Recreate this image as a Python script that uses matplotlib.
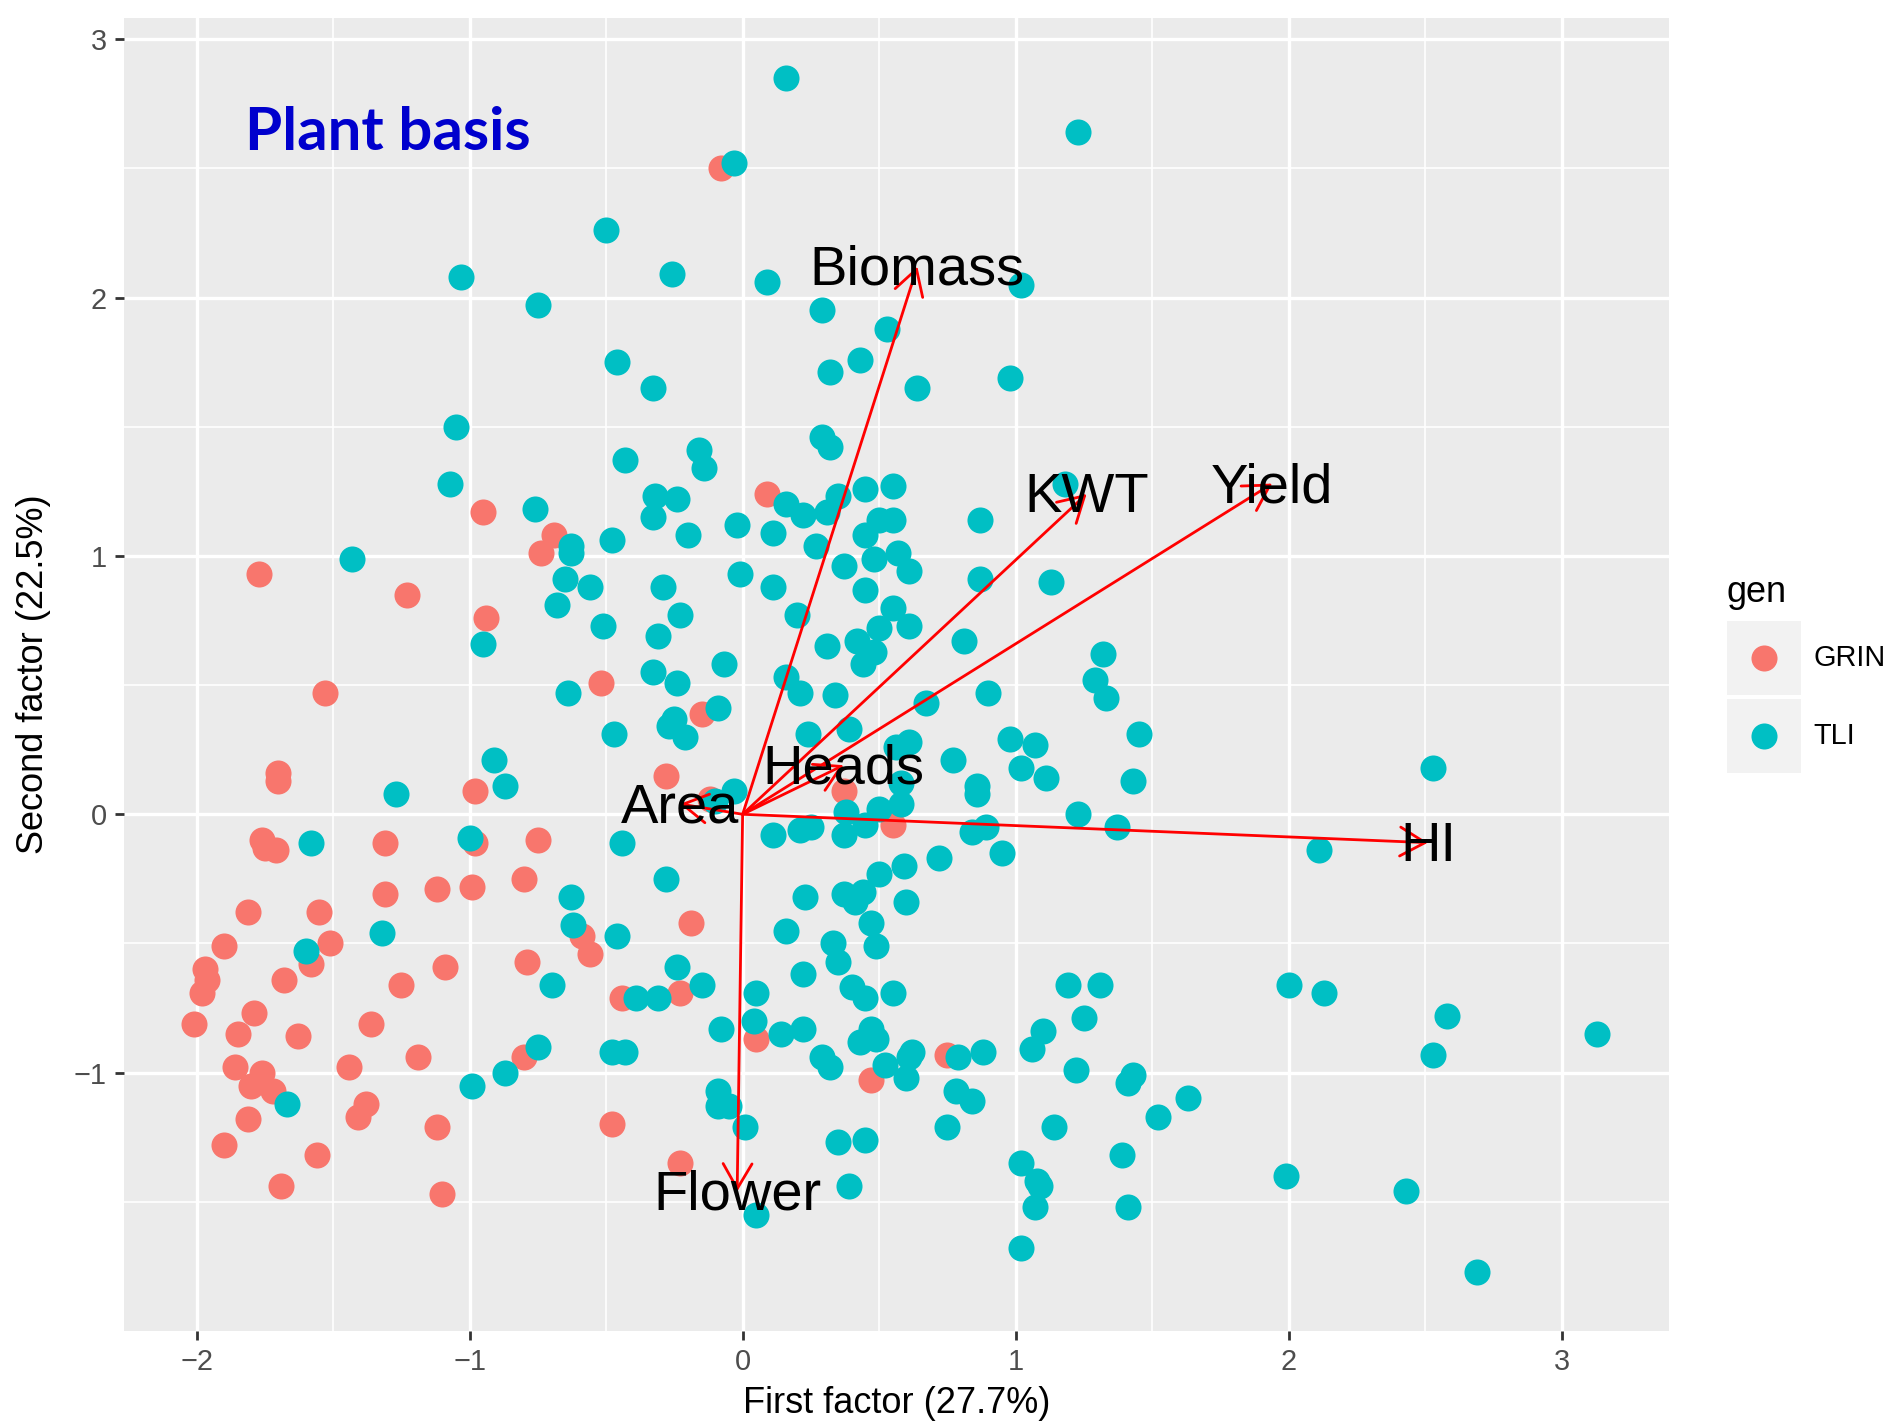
# Biplot of plant-basis factor scores (GRIN vs TLI) with variable loadings.

import matplotlib.pyplot as plt
from matplotlib.patches import Rectangle

plt.rcParams['font.family'] = ['Liberation Sans', 'DejaVu Sans']

W, H, DPI = 1895, 1422, 200

# factor scores, GRIN
grin_x = [-0.08, 0.09, -0.95, -1.77, -1.23, -0.94, -0.69, -0.74, -1.53, -0.52,
          -0.15, -1.70, -1.70, -0.28, -0.98, -0.12, -1.76, -1.75, -1.71, -1.31,
          -0.98, -0.75, -1.31, -1.12, -0.99, -0.80, -1.81, -1.55, -1.90, -1.51,
          -1.97, -1.96, -1.98, -1.58, -1.68, -1.25, -1.09, -0.79, -0.59, -0.56,
          -0.44, -2.01, -1.79, -1.85, -1.63, -1.36, -1.86, -1.76, -1.80, -1.72,
          -1.44, -1.19, -0.80, -1.81, -1.38, -1.41, -1.12, -1.90, -1.56, -1.69,
          -1.10, -0.48, -0.23, -0.19, -0.23, 0.05, 0.47, 0.75, 0.37, 0.55]
grin_y = [2.50, 1.24, 1.17, 0.93, 0.85, 0.76, 1.08, 1.01, 0.47, 0.51,
          0.39, 0.16, 0.13, 0.15, 0.09, 0.06, -0.10, -0.13, -0.14, -0.11,
          -0.11, -0.10, -0.31, -0.29, -0.28, -0.25, -0.38, -0.38, -0.51, -0.50,
          -0.60, -0.64, -0.69, -0.58, -0.64, -0.66, -0.59, -0.57, -0.47, -0.54,
          -0.71, -0.81, -0.77, -0.85, -0.86, -0.81, -0.98, -1.00, -1.05, -1.07,
          -0.98, -0.94, -0.94, -1.18, -1.12, -1.17, -1.21, -1.28, -1.32, -1.44,
          -1.47, -1.20, -1.35, -0.42, -0.69, -0.87, -1.03, -0.93, 0.09, -0.04]

# factor scores, TLI
tli_x = [-0.50, -1.03, -0.75, -0.46, -0.33, -1.05, -0.43, 0.16, 1.23, -0.03,
         -0.26, 0.09, 1.02, 0.29, 0.53, 0.43, 0.32, 0.64, 0.98, 0.29,
         0.32, -0.16, -0.14, -1.07, -0.76, -0.63, -0.63, -0.48, -1.43, -0.65,
         -0.56, -0.68, -0.51, -0.95, -0.64, -0.47, -0.91, -0.87, -1.27, -1.00,
         -1.58, -0.44, -0.63, -1.60, -1.32, -1.67, -0.99, -0.87, -0.75, -0.70,
         -0.62, -0.46, -0.39, -0.48, -0.43,
         -0.32, -0.24, -0.33, -0.20, -0.02, 0.16, 0.22, 0.31, 0.35, 0.45,
         0.55, 0.11, 0.27, 0.50, 0.55, 0.45, 0.48, 0.57, 0.61, 0.37,
         0.87, 0.87, 1.13, -0.01, 0.11, 0.45, -0.29, -0.23, -0.31, 0.20,
         0.55, 0.61, 0.50, 0.42, 0.48, 0.44, 0.31, 0.81, -0.07, -0.33,
         -0.24, 0.16, 0.21, 0.34, 0.90, 0.67, 1.32, 1.29, 1.33, -0.09,
         -0.25, -0.27, -0.21, 0.24, 0.39, 0.61, 0.56, 0.98, 1.07, 1.02,
         1.11, 1.45, 1.43, 0.77, 0.86, 0.86, 0.58, 0.58, -0.03, -0.10,
         1.23, 1.37, 0.89, 0.84, 0.95, 0.11, 0.21, 0.25, 0.37, 0.38,
         0.45, 0.50, 0.72, 0.59, 0.50, -0.28, 0.23, 0.37, 0.44, 0.41, 0.60, 1.18,
         0.47, 0.16, 0.33, 0.49, 0.35, 0.22, -0.24, -0.15, -0.31, 0.05,
         0.40, 0.45, 0.55, -0.08, 0.04, 0.14, 0.22, 0.47, 0.43, 0.49,
         0.29, 0.32, 0.52, 0.62, 0.61, 0.60, 0.79, 0.88, 1.10, 1.06,
         1.19, 1.31, 1.25, 1.22, 1.41, 1.43, 0.78, 0.84, 0.75, 1.14,
         1.52, -0.09, -0.09, -0.05, 0.01, 0.35, 0.45, 0.39, 0.05, 1.02,
         1.08, 1.09, 1.07, 1.39, 1.41, 1.02,
         2.00, 2.13, 2.58, 2.53, 3.13, 1.63, 1.99, 2.43, 2.69, 2.53, 2.11]
tli_y = [2.26, 2.08, 1.97, 1.75, 1.65, 1.50, 1.37, 2.85, 2.64, 2.52,
         2.09, 2.06, 2.05, 1.95, 1.88, 1.76, 1.71, 1.65, 1.69, 1.46,
         1.42, 1.41, 1.34, 1.28, 1.18, 1.04, 1.01, 1.06, 0.99, 0.91,
         0.88, 0.81, 0.73, 0.66, 0.47, 0.31, 0.21, 0.11, 0.08, -0.09,
         -0.11, -0.11, -0.32, -0.53, -0.46, -1.12, -1.05, -1.00, -0.90, -0.66,
         -0.43, -0.47, -0.71, -0.92, -0.92,
         1.23, 1.22, 1.15, 1.08, 1.12, 1.20, 1.16, 1.17, 1.23, 1.26,
         1.27, 1.09, 1.04, 1.14, 1.14, 1.08, 0.99, 1.01, 0.94, 0.96,
         1.14, 0.91, 0.90, 0.93, 0.88, 0.87, 0.88, 0.77, 0.69, 0.77,
         0.80, 0.73, 0.72, 0.67, 0.63, 0.58, 0.65, 0.67, 0.58, 0.55,
         0.51, 0.53, 0.47, 0.46, 0.47, 0.43, 0.62, 0.52, 0.45, 0.41,
         0.37, 0.34, 0.30, 0.31, 0.33, 0.28, 0.26, 0.29, 0.27, 0.18,
         0.14, 0.31, 0.13, 0.21, 0.11, 0.08, 0.12, 0.04, 0.09, 0.05,
         0.00, -0.05, -0.05, -0.07, -0.15, -0.08, -0.06, -0.05, -0.08, 0.01,
         -0.04, 0.02, -0.17, -0.20, -0.23, -0.25, -0.32, -0.31, -0.30, -0.34, -0.34, 1.28,
         -0.42, -0.45, -0.50, -0.51, -0.57, -0.62, -0.59, -0.66, -0.71, -0.69,
         -0.67, -0.71, -0.69, -0.83, -0.80, -0.85, -0.83, -0.83, -0.88, -0.87,
         -0.94, -0.98, -0.97, -0.92, -0.94, -1.02, -0.94, -0.92, -0.84, -0.91,
         -0.66, -0.66, -0.79, -0.99, -1.04, -1.01, -1.07, -1.11, -1.21, -1.21,
         -1.17, -1.07, -1.13, -1.13, -1.21, -1.27, -1.26, -1.44, -1.55, -1.35,
         -1.42, -1.44, -1.52, -1.32, -1.52, -1.68,
         -0.66, -0.69, -0.78, -0.93, -0.85, -1.10, -1.40, -1.46, -1.77, 0.18, -0.14]

# variable loadings (arrow tips)
var_names = ["Biomass", "KWT", "Yield", "HI", "Flower", "Heads", "Area"]
var_x = [0.64, 1.26, 1.94, 2.51, -0.02, 0.37, -0.23]
var_y = [2.12, 1.24, 1.28, -0.11, -1.46, 0.19, 0.04]

gen_labels = ["GRIN", "TLI"]
gen_colors = ["#F8766D", "#00BFC4"]

x_ticks = [-2, -1, 0, 1, 2, 3]
y_ticks = [-1, 0, 1, 2, 3]

fig = plt.figure(figsize=(W / DPI, H / DPI), dpi=DPI)
ax = fig.add_axes([124.5 / W, 1 - 1330.5 / H, 1544.5 / W, 1312.5 / H])
ax.set_facecolor("#EBEBEB")
for s in ax.spines.values():
    s.set_visible(False)

ax.scatter(grin_x, grin_y, s=88, color=gen_colors[0], linewidths=0, zorder=2)
ax.scatter(tli_x, tli_y, s=88, color=gen_colors[1], linewidths=0, zorder=2)

for name, vx, vy in zip(var_names, var_x, var_y):
    ax.annotate("", xy=(vx, vy), xytext=(0, 0),
                arrowprops=dict(arrowstyle="->,head_length=0.45,head_width=0.26",
                                color="red", lw=1.0, shrinkA=0, shrinkB=0,
                                mutation_scale=20),
                zorder=3)
    ax.annotate(name, xy=(vx, vy), xytext=(0, -1.6), textcoords="offset points",
                fontsize=20.2, ha="center", va="center", color="black", zorder=4)

ax.text(-1.30, 2.635, "Plant basis", fontsize=21.6, fontweight="bold", family="Lato",
        color="#0000CD", ha="center", va="center", zorder=4)

ax.set_xlim(-2.264, 3.393)
ax.set_ylim(-1.998, 3.082)
ax.set_xticks(x_ticks)
ax.set_yticks(y_ticks)
ax.set_xticks([-1.5, -0.5, 0.5, 1.5, 2.5], minor=True)
ax.set_yticks([-1.5, -0.5, 0.5, 1.5, 2.5], minor=True)
ax.grid(which="major", color="white", lw=1.2)
ax.grid(which="minor", color="white", lw=0.6)
ax.set_axisbelow(True)
ax.tick_params(which="major", length=3.2, width=1.0, color="#333333",
               labelsize=10.4, labelcolor="#4D4D4D", pad=3.2)
ax.tick_params(which="minor", length=0)

ax.set_xlabel("First factor (27.7%)", fontsize=13)
ax.set_ylabel("Second factor (22.5%)", fontsize=13)
ax.xaxis.set_label_coords(0.5, -0.0423)
ax.yaxis.set_label_coords(-0.0476, 0.5)

# legend drawn by hand in pixel space to mimic ggplot key boxes
lax = fig.add_axes([1700 / W, 1 - 800 / H, 195 / W, 260 / H])
lax.set_xlim(1700, 1895)
lax.set_ylim(800, 540)
lax.axis("off")
lax.text(1726, 602, "gen", fontsize=13, ha="left", va="baseline")
for i, (lab, col) in enumerate(zip(gen_labels, gen_colors)):
    y0 = 621 + i * 78
    lax.add_patch(Rectangle((1727, y0), 74, 74, color="#F2F2F2", lw=0))
    lax.scatter([1764], [y0 + 37], s=88, color=col, linewidths=0)
    lax.text(1813, y0 + 37, lab, fontsize=10.4, ha="left", va="center")

fig.savefig("out.png", dpi=DPI)
